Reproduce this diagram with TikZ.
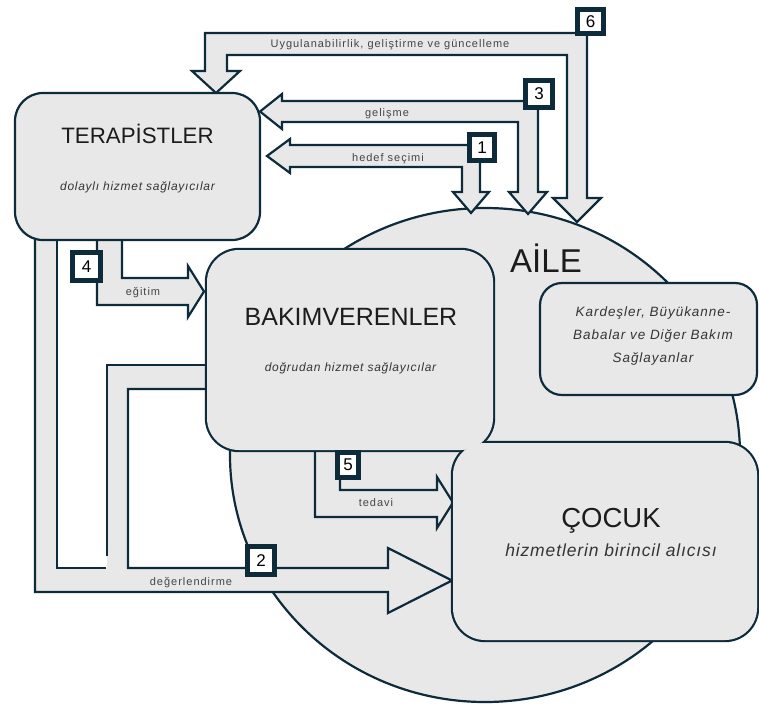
\documentclass[tikz,border=0pt]{standalone}
\usepackage{fontspec}
\usetikzlibrary{shapes.geometric}
\setmainfont{Liberation Sans}
\newfontfamily\lblfont[LetterSpace=9]{Liberation Sans}
\newfontfamily\subfont[LetterSpace=6]{Liberation Sans}
\newfontfamily\cocfont[LetterSpace=5]{Liberation Sans}
\newfontfamily\karfont[LetterSpace=7]{Liberation Sans}
\definecolor{edge}{HTML}{0E2B3B}
\definecolor{boxfill}{HTML}{E8E8E8}
\definecolor{lblc}{HTML}{454545}
\definecolor{ttl}{HTML}{1C1C1C}
\definecolor{subc}{HTML}{353535}
\begin{document}
\begin{tikzpicture}[x=1pt,y=-1pt]
\tikzset{
  blk/.style={draw=edge, fill=boxfill, line width=2.2pt, line join=miter},
  panel/.style={draw=edge, fill=boxfill, line width=2.2pt, rectangle, inner sep=0pt, outer sep=0pt},
  numbox/.style={draw=edge, fill=white, line width=4.6pt, rectangle, inner sep=0pt, outer sep=0pt,
                 minimum width=27pt, minimum height=27pt, font=\fontsize{17}{17}\selectfont, text=black},
  lbl/.style={font=\lblfont\fontsize{11}{13}\selectfont, text=lblc, anchor=base, inner sep=0pt},
  title/.style={text=ttl, anchor=base, inner sep=0pt},
  subt/.style={font=\subfont\itshape\fontsize{12}{14}\selectfont, text=subc, anchor=base, inner sep=0pt},
  kart/.style={font=\karfont\itshape\fontsize{13.5}{15}\selectfont, text=subc, anchor=base, inner sep=0pt},
}
\useasboundingbox (0,0) rectangle (759,709);

% family circle
\node[ellipse, draw=edge, fill=boxfill, line width=2.2pt, inner sep=0pt, outer sep=0pt,
      minimum width=510pt, minimum height=494pt] (aile) at (485,455) {};

% arrow 6
\path[blk] (205,33) -- (587,33) -- (587,198) -- (601,198) -- (577,222) -- (553,198) -- (567,198)
  -- (567,55) -- (227,55) -- (227,71) -- (240,71) -- (216,93) -- (192,71) -- (205,71) -- cycle;
% arrow 3
\path[blk] (282,101) -- (538,101) -- (538,192) -- (547,192) -- (528,214) -- (509,192) -- (518,192)
  -- (518,122) -- (282,122) -- (282,129) -- (260,111.5) -- (282,94) -- cycle;
% arrow 1
\path[blk] (290,145) -- (480,145) -- (480,192) -- (489,192) -- (471,213) -- (453,192) -- (462,192)
  -- (462,167) -- (290,167) -- (290,173) -- (267,156) -- (290,139) -- cycle;
% arrow 4
\path[blk] (97,230) -- (97,305) -- (188,305) -- (188,317) -- (204,291.5) -- (188,266) -- (188,278)
  -- (122,278) -- (122,230) -- cycle;
% arrow 5
\path[blk] (315,445) -- (315,517) -- (437,517) -- (437,528) -- (453,502.5) -- (437,477) -- (437,490)
  -- (340,490) -- (340,445) -- cycle;
% arrow 2
\fill[boxfill] (35,230) -- (35,592) -- (388,592) -- (388,613) -- (452,580.5) -- (388,548) -- (388,568)
  -- (128,568) -- (128,389) -- (212,389) -- (212,365) -- (107,365) -- (107,568) -- (57,568) -- (57,230) -- cycle;
\draw[edge, line width=2.2pt] (35,230) -- (35,592) -- (388,592) -- (388,613) -- (452,580.5) -- (388,548)
  -- (388,568) -- (128,568) -- (128,389) -- (212,389);
\draw[edge, line width=2.2pt] (212,365) -- (107,365) -- (107,556);
\draw[edge, line width=2.2pt] (106,568) -- (57,568) -- (57,230);

% boxes
\node[panel, minimum width=245pt, minimum height=147pt, rounded corners=28pt] (ter) at (137.5,166.5) {};
\node[panel, minimum width=217pt, minimum height=112pt, rounded corners=22pt] (kar) at (648.5,339) {};
\node[panel, line width=4.4pt, minimum width=286pt, minimum height=200pt, rounded corners=32pt] (bak) at (350,350) {};
\node[panel, line width=4.4pt, minimum width=304pt, minimum height=197pt, rounded corners=32pt] (coc) at (605,541.5) {};
\fill[boxfill, rounded corners=32pt] (bak.north west) rectangle (bak.south east);
\fill[boxfill, rounded corners=32pt] (coc.north west) rectangle (coc.south east);

% texts
\node[title, font=\fontsize{22.3}{24}\selectfont] (terT) at (137.5,143) {TERAPİSTLER};
\node[subt] (terS) at (137.5,190) {dolaylı hizmet sağlayıcılar};
\node[title, font=\fontsize{25}{27}\selectfont] (bakT) at (351,325) {BAKIMVERENLER};
\node[subt] (bakS) at (350.5,371.5) {doğrudan hizmet sağlayıcılar};
\node[title, font=\fontsize{33}{35}\selectfont] (aileT) at (546,272) {AİLE};
\node[title, font=\fontsize{27.5}{30}\selectfont] (cocT) at (611,527) {ÇOCUK};
\node[title, font=\cocfont\itshape\fontsize{17.5}{20}\selectfont, text=subc] (cocS) at (611,556) {hizmetlerin birincil alıcısı};
\node[kart] (kar1) at (653,316.5) {Kardeşler, Büyükanne-};
\node[kart] (kar2) at (653,339.5) {Babalar ve Diğer Bakım};
\node[kart] (kar3) at (653,362) {Sağlayanlar};

% arrow labels
\node[lbl] (l6) at (390,47.5) {Uygulanabilirlik, geliştirme ve güncelleme};
\node[lbl] (l3) at (387,116.5) {gelişme};
\node[lbl] (l1) at (388,161.5) {hedef seçimi};
\node[lbl] (l4) at (143,295) {eğitim};
\node[lbl] (l2) at (191,585) {değerlendirme};
\node[lbl] (l5) at (376,506) {tedavi};

% number boxes
\node[numbox, minimum width=26pt, minimum height=24pt] (n6) at (590.5,21.5) {6};
\node[numbox] (n3) at (539,94) {3};
\node[numbox, minimum width=25pt, minimum height=26pt] (n1) at (482,147.5) {1};
\node[numbox, minimum width=28pt, minimum height=28pt] (n4) at (86.5,266.5) {4};
\node[numbox, minimum width=27pt, minimum height=28pt] (n2) at (261,560.5) {2};
\node[numbox, minimum width=21pt, minimum height=25pt] (n5) at (348,465) {5};
\end{tikzpicture}
\end{document}
